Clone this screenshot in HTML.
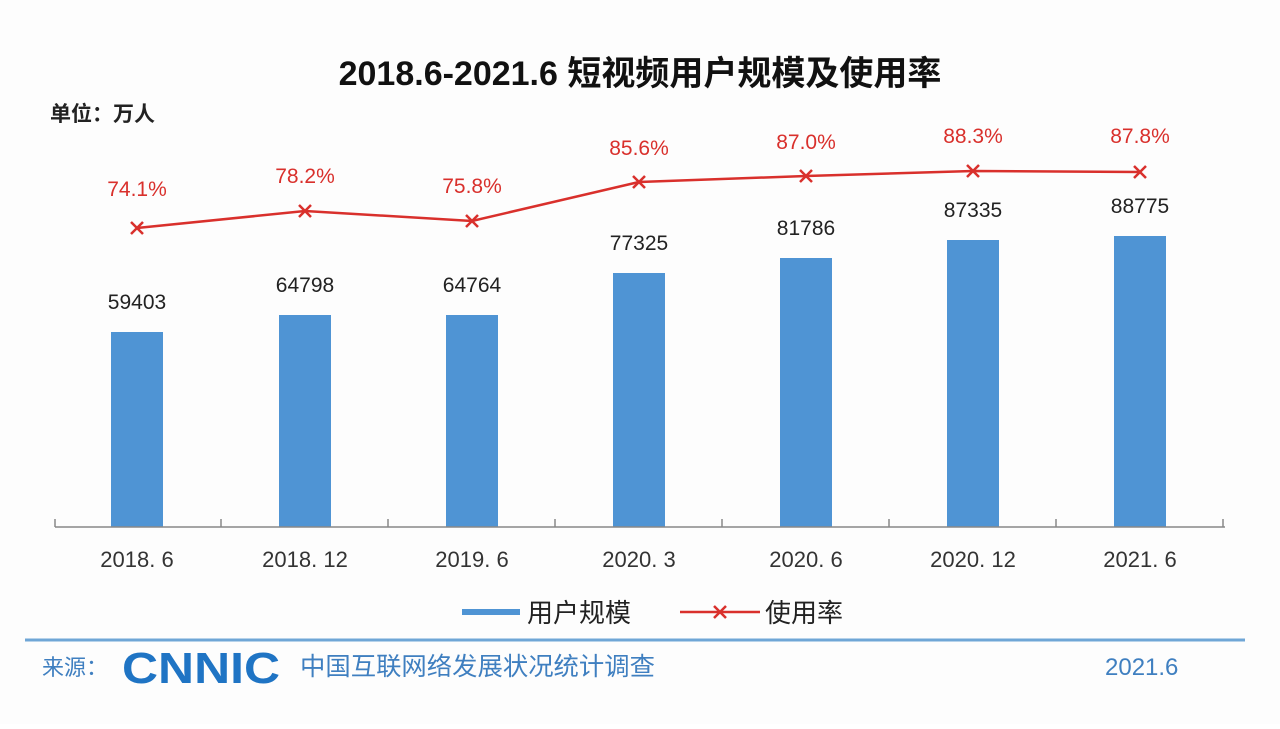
<!DOCTYPE html>
<html><head><meta charset="utf-8"><style>
body{margin:0;width:1280px;height:724px;background:#fff;overflow:hidden}
svg text{font-family:"Liberation Sans","Noto Sans CJK SC",sans-serif}
</style></head><body>
<svg width="1280" height="724" xmlns="http://www.w3.org/2000/svg">
<rect width="1280" height="724" fill="#fdfdfd"/>
<text x="640" y="85" font-size="34" font-weight="bold" text-anchor="middle" fill="#111">2018.6-2021.6 短视频用户规模及使用率</text>
<text x="50" y="121" font-size="21" font-weight="bold" fill="#222">单位：万人</text>
<g fill="#4f94d4">
<rect x="111" y="332" width="52" height="195"/>
<rect x="279" y="315" width="52" height="212"/>
<rect x="446" y="315" width="52" height="212"/>
<rect x="613" y="273" width="52" height="254"/>
<rect x="780" y="258" width="52" height="269"/>
<rect x="947" y="240" width="52" height="287"/>
<rect x="1114" y="236" width="52" height="291"/>
</g>
<g stroke="#888" stroke-width="1.5">
<line x1="55" y1="527" x2="1225" y2="527"/>
<line x1="55" y1="519" x2="55" y2="527"/><line x1="221" y1="519" x2="221" y2="527"/><line x1="388" y1="519" x2="388" y2="527"/><line x1="555" y1="519" x2="555" y2="527"/><line x1="722" y1="519" x2="722" y2="527"/><line x1="889" y1="519" x2="889" y2="527"/><line x1="1056" y1="519" x2="1056" y2="527"/><line x1="1223" y1="519" x2="1223" y2="527"/>
</g>
<g font-size="21" fill="#222" text-anchor="middle">
<text x="137" y="309">59403</text><text x="305" y="292">64798</text><text x="472" y="292">64764</text><text x="639" y="250">77325</text><text x="806" y="235">81786</text><text x="973" y="217">87335</text><text x="1140" y="213">88775</text>
</g>
<g font-size="22" fill="#333" text-anchor="middle">
<text x="137" y="567">2018. 6</text><text x="305" y="567">2018. 12</text><text x="472" y="567">2019. 6</text><text x="639" y="567">2020. 3</text><text x="806" y="567">2020. 6</text><text x="973" y="567">2020. 12</text><text x="1140" y="567">2021. 6</text>
</g>
<polyline points="137,228 305,211 472,221 639,182 806,176 973,171 1140,172" fill="none" stroke="#d9302c" stroke-width="2.5"/>
<g stroke="#d9302c" stroke-width="2.5">
<path d="M131,222l12,12M143,222l-12,12"/><path d="M299,205l12,12M311,205l-12,12"/><path d="M466,215l12,12M478,215l-12,12"/><path d="M633,176l12,12M645,176l-12,12"/><path d="M800,170l12,12M812,170l-12,12"/><path d="M967,165l12,12M979,165l-12,12"/><path d="M1134,166l12,12M1146,166l-12,12"/>
</g>
<g font-size="21" fill="#d9302c" text-anchor="middle">
<text x="137" y="196">74.1%</text><text x="305" y="183">78.2%</text><text x="472" y="193">75.8%</text><text x="639" y="155">85.6%</text><text x="806" y="149">87.0%</text><text x="973" y="143">88.3%</text><text x="1140" y="143">87.8%</text>
</g>
<rect x="462" y="609" width="58" height="6" fill="#4f94d4"/>
<text x="527" y="622" font-size="26" fill="#222">用户规模</text>
<line x1="680" y1="612" x2="760" y2="612" stroke="#d9302c" stroke-width="2.5"/>
<path d="M714,606l12,12M726,606l-12,12" stroke="#d9302c" stroke-width="2.5"/>
<text x="765" y="622" font-size="26" fill="#222">使用率</text>
<line x1="25" y1="640" x2="1245" y2="640" stroke="#6fa6d6" stroke-width="3"/>
<text x="42" y="675" font-size="22" fill="#3f7fc0">来源：</text>
<text x="122" y="683" font-size="44" font-weight="bold" fill="#1f74c4" textLength="158" lengthAdjust="spacingAndGlyphs">CNNIC</text>
<text x="300" y="675" font-size="25" fill="#3f7fc0" textLength="355" lengthAdjust="spacingAndGlyphs">中国互联网络发展状况统计调查</text>
<text x="1105" y="675" font-size="24" fill="#3f7fc0">2021.6</text>
</svg>
</body></html>
